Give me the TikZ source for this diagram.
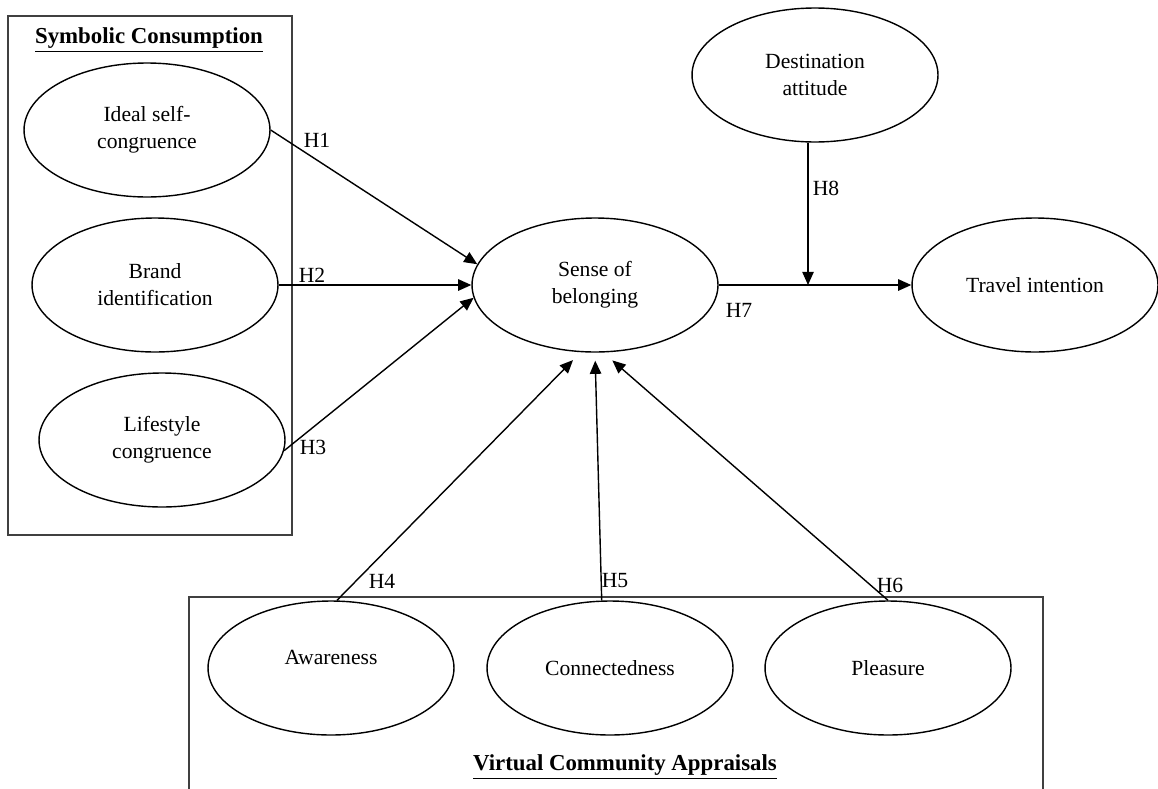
\documentclass[tikz,border=0pt]{standalone}
\usepackage{fontspec}
\setmainfont{Liberation Serif}
\usetikzlibrary{shapes.geometric,arrows.meta}

\begin{document}
\begin{tikzpicture}
[x=0.02cm, y=-0.02cm,
 font=\fontsize{12.3}{15.4}\selectfont,
 construct/.style ={ellipse, draw, line width=0.8pt, minimum width=4.92cm, minimum height=2.68cm, inner sep=0pt, align=center},
 frame/.style ={draw=black!75, line width=0.6pt},
 heading/.style ={font=\fontsize{13}{15}\selectfont\bfseries, inner sep=0pt},
 hyp/.style ={inner sep=0pt},
 line/.style ={draw, line width=0.8pt, -{Triangle[length=7.5pt,width=6.5pt]}}]
\useasboundingbox (0,0) rectangle (1158,788);
% the two group boxes
\draw[frame] (8,16) rectangle (292,535);
\draw[frame] (189,800) -- (189,597) -- (1043,597) -- (1043,800);
\node[heading] (symb) at (149,40) {\underline{Symbolic Consumption}};
\node[heading] (vca) at (625,767) {\underline{Virtual Community Appraisals}};
% constructs
\path (147,130) node[construct] (ideal) {Ideal self-\\congruence}
      (155,285) node[construct] (brand) {Brand\\identification}
      (162,440) node[construct] (life) {Lifestyle\\congruence}
      (595,285) node[construct] (sense) {Sense of\\belonging}
      (815,75) node[construct] (dest) {Destination\\attitude}
      (1035,285) node[construct] (travel) {Travel intention}
      (331,668) node[construct] (aware) {\raisebox{0.44cm}{Awareness}}
      (610,668) node[construct] (conn) {Connectedness}
      (888,668) node[construct] (pleas) {Pleasure};
% paths
\draw[line] (ideal.east) -- (sense.170);
\draw[line] (brand.east) -- (sense.west);
\draw[line] (life.355) -- (sense.186);
\draw[line, shorten >=0.22cm] (aware.85) -- (sense.258);
\draw[line, shorten >=0.16cm] (conn.97) -- (sense.south);
\draw[line, shorten >=0.24cm] (pleas.north) -- (sense.277);
\draw[line] (sense.east) -- (travel.west);
\coordinate (mod) at (808,285);
\draw[line] (dest.south -| mod) -- (mod);
% hypothesis labels
\node[hyp] (h1) at (317,140) {H1};
\node[hyp] (h2) at (312,275) {H2};
\node[hyp] (h3) at (313,447) {H3};
\node[hyp] (h4) at (382,581) {H4};
\node[hyp] (h5) at (615,581) {H5};
\node[hyp] (h6) at (890,585) {H6};
\node[hyp] (h7) at (739,310) {H7};
\node[hyp] (h8) at (826,188) {H8};
\end{tikzpicture}
\end{document}
